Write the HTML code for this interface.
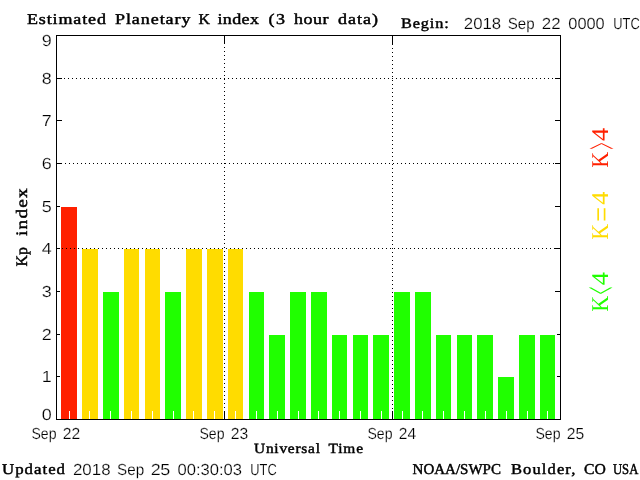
<!DOCTYPE html>
<html lang="en"><head><meta charset="utf-8"><title>Estimated Planetary K index</title>
<style>html,body{margin:0;padding:0;background:#fff}svg{display:block}text{fill:#000;white-space:pre;text-rendering:geometricPrecision}.sf{font-family:"Liberation Serif",serif;stroke:#000;stroke-width:.45px}.ss{font-family:"Liberation Sans",sans-serif;font-size:16px;stroke:#fff;stroke-width:.2px}.lg{font-family:"Liberation Serif",serif;font-size:24px}</style></head><body>
<svg width="640" height="480" viewBox="0 0 640 480">
<rect width="640" height="480" fill="#fff"/>
<g shape-rendering="crispEdges">
<rect x="61" y="207" width="16" height="212" fill="#ff2000"/>
<rect x="82" y="249" width="16" height="170" fill="#ffdc00"/>
<rect x="103" y="292" width="16" height="127" fill="#20ff00"/>
<rect x="124" y="249" width="15" height="170" fill="#ffdc00"/>
<rect x="145" y="249" width="15" height="170" fill="#ffdc00"/>
<rect x="165" y="292" width="16" height="127" fill="#20ff00"/>
<rect x="186" y="249" width="16" height="170" fill="#ffdc00"/>
<rect x="207" y="249" width="16" height="170" fill="#ffdc00"/>
<rect x="228" y="249" width="15" height="170" fill="#ffdc00"/>
<rect x="249" y="292" width="15" height="127" fill="#20ff00"/>
<rect x="269" y="335" width="16" height="84" fill="#20ff00"/>
<rect x="290" y="292" width="16" height="127" fill="#20ff00"/>
<rect x="311" y="292" width="16" height="127" fill="#20ff00"/>
<rect x="332" y="335" width="15" height="84" fill="#20ff00"/>
<rect x="353" y="335" width="15" height="84" fill="#20ff00"/>
<rect x="373" y="335" width="16" height="84" fill="#20ff00"/>
<rect x="394" y="292" width="16" height="127" fill="#20ff00"/>
<rect x="415" y="292" width="16" height="127" fill="#20ff00"/>
<rect x="436" y="335" width="15" height="84" fill="#20ff00"/>
<rect x="457" y="335" width="15" height="84" fill="#20ff00"/>
<rect x="477" y="335" width="16" height="84" fill="#20ff00"/>
<rect x="498" y="377" width="16" height="42" fill="#20ff00"/>
<rect x="519" y="335" width="16" height="84" fill="#20ff00"/>
<rect x="540" y="335" width="15" height="84" fill="#20ff00"/>
<path d="M69.5 411v8M89.5 411v8M110.5 411v8M131.5 411v8M152.5 411v8M173.5 411v8M193.5 411v8M214.5 411v8M235.5 411v8M256.5 411v8M277.5 411v8M298.5 411v8M318.5 411v8M339.5 411v8M360.5 411v8M381.5 411v8M402.5 411v8M422.5 411v8M443.5 411v8M464.5 411v8M485.5 411v8M506.5 411v8M527.5 411v8M547.5 411v8" fill="none" stroke="#fff" stroke-width="1"/>
<path d="M56.5 35.5H560.5V419.5H56.5Z" fill="none" stroke="#000" stroke-width="1"/>
<path d="M57 376.5h3M560 376.5h-3M57 334.5h3M560 334.5h-3M57 291.5h3M560 291.5h-5M57 248.5h3M560 248.5h-5M57 206.5h3M560 206.5h-5M57 163.5h5M560 163.5h-5M57 120.5h5M560 120.5h-5M57 78.5h5M560 78.5h-5M224.5 36v8M392.5 36v9M224.5 411v8M392.5 411v8" fill="none" stroke="#000" stroke-width="1"/>
<path d="M64 78.5H553M65 163.5H554M62 248.5H555M224.5 47V408M392.5 48V409" fill="none" stroke="#000" stroke-width="1" stroke-dasharray="1 3"/>
</g>
<text class="sf" style="font-size:15px" transform="scale(1.2,1)" y="24"><tspan x="22.50" textLength="65.83" lengthAdjust="spacing">Estimated</tspan> <tspan x="95.83" textLength="62.92" lengthAdjust="spacing">Planetary</tspan> <tspan x="165.42" textLength="9.58" lengthAdjust="spacingAndGlyphs">K</tspan> <tspan x="181.25" textLength="34.58" lengthAdjust="spacing">index</tspan> <tspan x="223.75" textLength="13.75" lengthAdjust="spacing">(3</tspan> <tspan x="245.00" textLength="28.75" lengthAdjust="spacing">hour</tspan> <tspan x="281.67" textLength="33.33" lengthAdjust="spacing">data)</tspan></text>
<text class="sf" style="font-size:14.5px" transform="scale(1.12,1)" y="28"><tspan x="358.04" textLength="42.59" lengthAdjust="spacing">Begin:</tspan></text>
<text class="ss" transform="scale(1.12,1)" y="29"><tspan x="414.17" textLength="33.33" lengthAdjust="spacingAndGlyphs">2018</tspan> <tspan x="453.38" textLength="24.01" lengthAdjust="spacingAndGlyphs">Sep</tspan> <tspan x="483.74" textLength="16.75" lengthAdjust="spacingAndGlyphs">22</tspan> <tspan x="507.41" textLength="32.50" lengthAdjust="spacingAndGlyphs">0000</tspan> <tspan x="547.59" textLength="23.57" lengthAdjust="spacingAndGlyphs">UTC</tspan></text>
<text class="sf" style="font-size:14px" transform="scale(1.1,1)" y="453"><tspan x="230.91" textLength="60.00" lengthAdjust="spacing">Universal</tspan> <tspan x="298.55" textLength="31.45" lengthAdjust="spacing">Time</tspan></text>
<text class="sf" style="font-size:15px" transform="scale(1.12,1)" y="474"><tspan x="1.79" textLength="56.25" lengthAdjust="spacing">Updated</tspan></text>
<text class="ss" transform="scale(1.12,1)" y="475"><tspan x="65.14" textLength="33.56" lengthAdjust="spacingAndGlyphs">2018</tspan> <tspan x="104.56" textLength="24.20" lengthAdjust="spacingAndGlyphs">Sep</tspan> <tspan x="134.63" textLength="17.34" lengthAdjust="spacing">25</tspan> <tspan x="158.48" textLength="57.62" lengthAdjust="spacingAndGlyphs">00:30:03</tspan> <tspan x="223.50" textLength="23.55" lengthAdjust="spacingAndGlyphs">UTC</tspan></text>
<text class="sf" style="font-size:15px" transform="scale(1.1,1)" y="474"><tspan x="375.09" textLength="80.36" lengthAdjust="spacingAndGlyphs">NOAA/SWPC</tspan> <tspan x="464.55" textLength="58.58" lengthAdjust="spacing">Boulder,</tspan> <tspan x="530.91" textLength="19.82" lengthAdjust="spacingAndGlyphs">CO</tspan> <tspan x="557.27" textLength="23.00" lengthAdjust="spacingAndGlyphs">USA</tspan></text>
<text class="ss" transform="scale(1.12,1)" y="439"><tspan x="28.08" textLength="22.37" lengthAdjust="spacingAndGlyphs">Sep</tspan> <tspan x="56.06" textLength="15.55" lengthAdjust="spacingAndGlyphs">22</tspan></text>
<text class="ss" transform="scale(1.12,1)" y="439"><tspan x="178.08" textLength="22.37" lengthAdjust="spacingAndGlyphs">Sep</tspan> <tspan x="206.06" textLength="15.55" lengthAdjust="spacingAndGlyphs">23</tspan></text>
<text class="ss" transform="scale(1.12,1)" y="439"><tspan x="328.08" textLength="22.37" lengthAdjust="spacingAndGlyphs">Sep</tspan> <tspan x="356.06" textLength="15.43" lengthAdjust="spacingAndGlyphs">24</tspan></text>
<text class="ss" transform="scale(1.12,1)" y="439"><tspan x="478.08" textLength="22.37" lengthAdjust="spacingAndGlyphs">Sep</tspan> <tspan x="506.06" textLength="15.55" lengthAdjust="spacingAndGlyphs">25</tspan></text>
<text class="ss" transform="translate(51.8,420) scale(1.12,1)" text-anchor="end">0</text>
<text class="ss" transform="translate(51.8,382) scale(1.12,1)" text-anchor="end">1</text>
<text class="ss" transform="translate(51.8,340) scale(1.12,1)" text-anchor="end">2</text>
<text class="ss" transform="translate(51.8,297) scale(1.12,1)" text-anchor="end">3</text>
<text class="ss" transform="translate(51.8,254) scale(1.12,1)" text-anchor="end">4</text>
<text class="ss" transform="translate(51.8,212) scale(1.12,1)" text-anchor="end">5</text>
<text class="ss" transform="translate(51.8,169) scale(1.12,1)" text-anchor="end">6</text>
<text class="ss" transform="translate(51.8,126) scale(1.12,1)" text-anchor="end">7</text>
<text class="ss" transform="translate(51.8,84) scale(1.12,1)" text-anchor="end">8</text>
<text class="ss" transform="translate(51.8,46) scale(1.12,1)" text-anchor="end">9</text>
<g transform="translate(27,266.4) rotate(-90)">
<text class="sf" style="font-size:16px" transform="scale(1.2,1)" y="0"><tspan x="0" textLength="16.17" lengthAdjust="spacingAndGlyphs">Kp</tspan> <tspan x="25.33" textLength="39.67">index</tspan></text>
</g>
<g class="lg" style="fill:#ff2000" transform="translate(608,167) rotate(-90)">
<text style="fill:#ff2000" transform="scale(0.915,1) translate(-0.69,0)">K</text><text style="fill:#ff2000" transform="translate(21.12,-7.00) scale(0.515,2.073) translate(-6.8,7.97)">&gt;</text><text style="fill:#ff2000" transform="translate(26.6,0) scale(1.1,1) translate(-0.47,0)">4</text>
</g>
<g class="lg" style="fill:#ffdc00" transform="translate(608,239) rotate(-90)">
<text style="fill:#ffdc00" transform="scale(0.915,1) translate(-0.69,0)">K</text><text style="fill:#ffdc00" transform="translate(24.55,-7.00) scale(1.084,1.333) translate(-6.78,7.97)">=</text><text style="fill:#ffdc00" transform="translate(34.8,0) scale(1.1,1) translate(-0.47,0)">4</text>
</g>
<g class="lg" style="fill:#20ff00" transform="translate(608,311) rotate(-90)">
<text style="fill:#20ff00" transform="scale(0.915,1) translate(-0.69,0)">K</text><text style="fill:#20ff00" transform="translate(20.40,-7.10) scale(0.573,2.055) translate(-6.78,7.97)">&lt;</text><text style="fill:#20ff00" transform="translate(26.3,0) scale(1.1,1) translate(-0.47,0)">4</text>
</g>
</svg></body></html>
